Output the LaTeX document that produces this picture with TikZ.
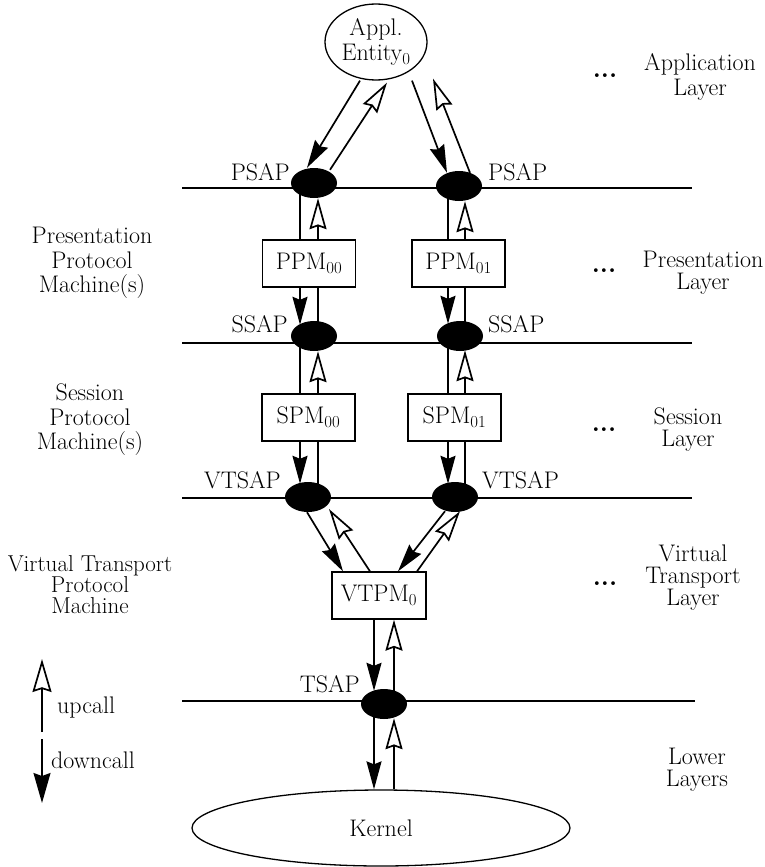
\documentclass[tikz,border=0pt]{standalone}
\usetikzlibrary{arrows.meta,shapes.geometric}
\begin{document}
\begin{tikzpicture}[x=1pt,y=-1pt,
  txt/.style={font=\fontsize{24}{26}\selectfont, inner sep=0pt},
  sap/.style={ellipse,fill=black,minimum width=46pt,minimum height=30pt,inner sep=0pt},
  pm/.style={draw,line width=1.3pt,minimum width=93pt,minimum height=47pt,inner sep=0pt,
             font=\fontsize{24}{26}\selectfont},
  entity/.style={ellipse,draw,line width=1.3pt,inner sep=0pt,align=center,
             font=\fontsize{24}{25}\selectfont},
  layerline/.style={line width=1.4pt},
  plainc/.style={line width=1.7pt},
  dcall/.style={line width=1.7pt,-{Stealth[length=28pt,width=15pt,inset=3pt]}},
  ucall/.style={line width=1.7pt,-{Stealth[open,length=31pt,width=17pt,inset=3pt,fill=white]}},
  legdown/.style={line width=1.7pt,-{Stealth[length=30pt,width=17pt,inset=3pt]}},
  legup/.style={line width=1.7pt,-{Stealth[open,length=33pt,width=19pt,inset=3pt,fill=white]}},
  dots/.style={font=\bfseries\fontsize{26}{26}\selectfont, inner sep=0pt}
]
\useasboundingbox (0,0) rectangle (764,867);

% service access point boundaries between layers
\draw[layerline] (182,188) -- (692,188);
\draw[layerline] (182,343) -- (692,343);
\draw[layerline] (182,498) -- (692,498);
\draw[layerline] (182,701) -- (695,701);

% entities and protocol machines
\node[entity,minimum width=102pt,minimum height=76pt] (appl) at (376,42) {Appl.\\Entity\textsubscript{0}};
\node[pm] (ppm00) at (309,263.5) {PPM\textsubscript{00}};
\node[pm] (ppm01) at (458.5,263.5) {PPM\textsubscript{01}};
\node[pm] (spm00) at (308.5,417.5) {SPM\textsubscript{00}};
\node[pm] (spm01) at (454.5,417.5) {SPM\textsubscript{01}};
\node[pm,minimum width=94pt] (vtpm) at (379,595.5) {VTPM\textsubscript{0}};
\node[entity,minimum width=378pt,minimum height=76pt] (kernel) at (381,828) {Kernel};

% service access points
\node[sap] (psapL) at (314,183) {};
\node[sap] (psapR) at (459,186) {};
\node[sap] (ssapL) at (314,336) {};
\node[sap] (ssapR) at (460,336) {};
\node[sap] (vtsapL) at (308,497) {};
\node[sap] (vtsapR) at (455,497) {};
\node[sap] (tsap) at (384,704) {};

% SAP names
\node[txt,anchor=base east] (psapLt) at (290,180) {PSAP};
\node[txt,anchor=base west] (psapRt) at (488,180) {PSAP};
\node[txt,anchor=base east] (ssapLt) at (288,332) {SSAP};
\node[txt,anchor=base west] (ssapRt) at (488,332) {SSAP};
\node[txt,anchor=base east] (vtsapLt) at (281,488) {VTSAP};
\node[txt,anchor=base west] (vtsapRt) at (482,488) {VTSAP};
\node[txt,anchor=base east] (tsapt) at (360,692) {TSAP};

% column positions of the call lines
\coordinate (xLd) at (300,0);
\coordinate (xLu) at (318,0);
\coordinate (xRd) at (448,0);
\coordinate (xRu) at (465,0);
\coordinate (xBd) at (374,0);
\coordinate (xBu) at (394,0);

% application entity <-> PSAPs
\draw[dcall] ([xshift=-16pt]appl.south) -- ([shift={(-7,0)}]psapL.north);
\draw[ucall] ([shift={(16,2)}]psapL.north) -- ([shift={(11,2)}]appl.south);
\draw[dcall] ([shift={(36,0)}]appl.south) -- ([shift={(-12,2)}]psapR.north);
\draw[ucall] ([shift={(11,2)}]psapR.north) -- ([shift={(57,-2)}]appl.south);

% PSAP <-> PPM
\draw[plainc] (psapL.center -| xLd) -- (ppm00.north -| xLd);
\draw[ucall] (ppm00.north -| xLu) -- (psapL.south -| xLu);
\draw[plainc] (psapR.center -| xRd) -- (ppm01.north -| xRd);
\draw[ucall] (ppm01.north -| xRu) -- (psapR.south -| xRu);

% PPM <-> SSAP
\draw[dcall,shorten >=-4pt] (ppm00.south -| xLd) -- (ssapL.north -| xLd);
\draw[plainc] (ssapL.center -| xLu) -- (ppm00.south -| xLu);
\draw[dcall,shorten >=-3pt] (ppm01.south -| xRd) -- (ssapR.north -| xRd);
\draw[plainc] (ssapR.center -| xRu) -- (ppm01.south -| xRu);

% SSAP <-> SPM
\draw[plainc] (ssapL.center -| xLd) -- (spm00.north -| xLd);
\draw[ucall] (spm00.north -| xLu) -- (ssapL.south -| xLu);
\draw[plainc] (ssapR.center -| xRd) -- (spm01.north -| xRd);
\draw[ucall,shorten >=-1pt] (spm01.north -| xRu) -- (ssapR.south -| xRu);

% SPM <-> VTSAP
\draw[dcall,shorten >=-2pt] (spm00.south -| xLd) -- (vtsapL.north -| xLd);
\draw[plainc] (vtsapL.center -| xLu) -- (spm00.south -| xLu);
\draw[dcall,shorten >=-2pt] (spm01.south -| xRd) -- (vtsapR.north -| xRd);
\draw[plainc] (vtsapR.center -| xRu) -- (spm01.south -| xRu);

% VTSAPs <-> VTPM
\draw[dcall] ([shift={(-1,0)}]vtsapL.south) -- ([xshift=-36pt]vtpm.north);
\draw[ucall] ([xshift=-9pt]vtpm.north) -- ([shift={(21,12)}]vtsapL.center);
\draw[dcall] ([shift={(-10,-1)}]vtsapR.south) -- ([xshift=19pt]vtpm.north);
\draw[ucall] ([xshift=38pt]vtpm.north) -- ([shift={(5,-1)}]vtsapR.south);

% VTPM <-> TSAP
\draw[dcall,shorten >=-2pt] (vtpm.south -| xBd) -- (tsap.north -| xBd);
\draw[ucall] (tsap.center -| xBu) -- (vtpm.south -| xBu);

% TSAP <-> Kernel
\draw[dcall] (tsap.center -| xBd) -- (kernel.north -| xBd);
\draw[ucall,shorten >=-1pt] (kernel.north -| xBu) -- (tsap.south -| xBu);

% protocol machine names on the left
\node[txt,align=center,font=\fontsize{24}{24.5}\selectfont] (lpres) at (92,263) {Presentation\\Protocol\\Machine(s)};
\node[txt,align=center,font=\fontsize{24}{24.5}\selectfont] (lsess) at (90,420) {Session\\Protocol\\Machine(s)};
\node[txt,align=center,font=\fontsize{23}{21}\selectfont] (lvt) at (90,585) {Virtual Transport\\Protocol\\Machine};

% layer names on the right
\node[dots] (dapp) at (605,76) {...};
\node[txt,align=center,font=\fontsize{24}{25}\selectfont] (rapp) at (700,77) {Application\\Layer};
\node[dots] (dpres) at (604,271) {...};
\node[txt,align=center,font=\fontsize{24}{22}\selectfont] (rpres) at (703,273) {Presentation\\Layer};
\node[dots] (dsess) at (604,430) {...};
\node[txt,align=center,font=\fontsize{24}{22}\selectfont] (rsess) at (688,430) {Session\\Layer};
\node[dots] (dvt) at (605,584) {...};
\node[txt,align=center,font=\fontsize{24}{22}\selectfont] (rvt) at (693,578) {Virtual\\Transport\\Layer};
\node[txt,align=center,font=\fontsize{24}{22}\selectfont] (rlow) at (697,770) {Lower\\Layers};

% legend
\coordinate (upTail) at (42,732);
\coordinate (upTip) at (42,659);
\coordinate (dnTail) at (42,739);
\coordinate (dnTip) at (42,803);
\draw[legup] (upTail) -- (upTip);
\draw[legdown] (dnTail) -- (dnTip);
\node[txt,anchor=west] (lup) at (57,708) {upcall};
\node[txt,anchor=west] (ldown) at (51,760) {downcall};
\end{tikzpicture}
\end{document}
